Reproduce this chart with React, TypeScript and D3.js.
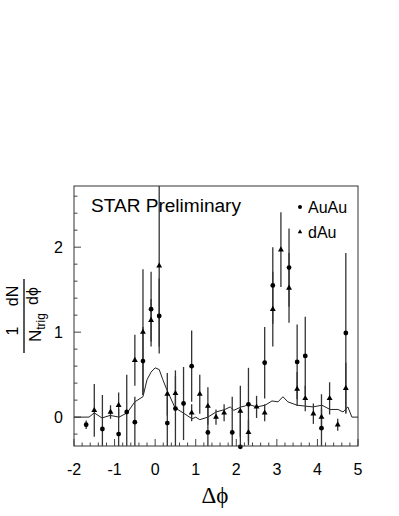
import React from 'react';
import * as d3 from 'd3';

// AuAu points (circles)
const auauX = [-1.7, -1.3, -0.9, -0.7, -0.5, -0.3, -0.1, 0.1, 0.3, 0.5, 0.7, 0.9, 1.3, 1.9, 2.1, 2.3, 2.7, 2.9, 3.3, 3.5, 3.7, 4.1, 4.7];
const auauY = [-0.09, -0.14, -0.2, 0.06, -0.06, 0.66, 1.27, 1.19, -0.07, 0.1, 0.16, 0.6, -0.18, -0.18, -0.35, 0.15, 0.64, 1.55, 1.76, 0.65, 0.72, -0.13, 0.99];
const auauErr = [0.05, 0.4, 0.3, 0.44, 0.3, 0.4, 0.44, 0.44, 0.35, 0.45, 0.43, 0.42, 0.3, 0.42, 0.4, 0.43, 0.42, 0.45, 0.46, 0.44, 0.46, 0.4, 0.94];

// dAu points (triangles)
const dauX = [-1.5, -1.1, -0.9, -0.5, -0.3, -0.1, 0.1, 0.3, 0.5, 0.9, 1.1, 1.3, 1.5, 1.7, 2.1, 2.3, 2.5, 2.7, 2.9, 3.1, 3.3, 3.5, 3.7, 3.9, 4.1, 4.3, 4.5, 4.7];
const dauY = [0.08, 0.06, 0.14, 0.67, 1.0, 1.14, 1.78, 0.27, 0.28, 0.05, 0.27, 0.13, 0.0, 0.05, 0.07, -0.18, 0.12, 0.05, 1.27, 1.97, 1.52, 0.33, 0.22, 0.04, 0.0, 0.22, -0.09, 0.34];
const dauErr = [0.31, 0.08, 0.15, 0.3, 0.74, 0.25, 0.95, 0.25, 0.2, 0.1, 0.23, 0.22, 0.09, 0.1, 0.3, 0.15, 0.13, 0.1, 0.44, 0.44, 0.41, 0.2, 0.15, 0.12, 0.1, 0.19, 0.07, 0.3];

// reference curve
const lineX = [-2.0, -1.63, -1.5, -1.31, -1.11, -0.89, -0.69, -0.5, -0.3, -0.2, -0.1, 0.0, 0.1, 0.19, 0.29, 0.49, 0.69, 0.91, 1.0, 1.1, 1.3, 1.5, 1.72, 1.85, 1.94, 2.12, 2.21, 2.29, 2.51, 2.71, 2.88, 3.03, 3.15, 3.27, 3.5, 3.69, 3.89, 4.11, 4.31, 4.51, 4.63, 4.75, 4.85, 5.0];
const lineY = [0, 0, 0.05, -0.01, 0.02, 0.0, 0.05, 0.18, 0.24, 0.44, 0.53, 0.58, 0.56, 0.44, 0.32, 0.11, 0.05, -0.02, 0.0, -0.03, 0.0, 0.06, 0.09, 0.12, 0.08, 0.12, 0.13, 0.15, 0.12, 0.14, 0.19, 0.18, 0.24, 0.18, 0.14, 0.13, 0.12, 0.14, 0.09, 0.09, 0.06, 0.12, 0.0, 0.0];

const xTicks = [-2, -1, 0, 1, 2, 3, 4, 5];
const yTicks = [0, 1, 2];

const left = 74, right = 358, top = 186, bottom = 446;
const sans = '"Liberation Sans", Arial, Helvetica, sans-serif';
const serif = '"Liberation Serif", "Times New Roman", serif';

export default function App() {
  const x = d3.scaleLinear().domain([-2, 5]).range([left, right]);
  const y = d3.scaleLinear().domain([-0.34, 2.72]).range([bottom, top]);

  const xMinor = d3.range(-2, 5.001, 0.2).map((v) => +v.toFixed(2));
  const yMinor = d3.range(-0.2, 2.65, 0.2).map((v) => +v.toFixed(2));

  const line = d3
    .line<number>()
    .x((_, i) => x(lineX[i]))
    .y((d) => y(d));

  const tri = d3.symbol().type(d3.symbolTriangle).size(15)();
  const triSmall = d3.symbol().type(d3.symbolTriangle).size(9)();

  return (
    <svg width={399} height={516} style={{ position: 'absolute', left: 0, top: 0, background: '#fff' }}>
      <defs>
        <clipPath id="plot">
          <rect x={left} y={top} width={right - left} height={bottom - top} />
        </clipPath>
      </defs>

      {/* ticks */}
      {xMinor.map((v) => (
        <line key={'xm' + v} x1={x(v)} x2={x(v)} y1={bottom} y2={bottom - (Number.isInteger(v) ? 7 : 3.5)} stroke="#444" strokeWidth={1} />
      ))}
      {yMinor.map((v) => (
        <line key={'ym' + v} x1={left} x2={left + (Math.abs(v - Math.round(v)) < 0.01 ? 7 : 3.5)} y1={y(v)} y2={y(v)} stroke="#444" strokeWidth={1} />
      ))}

      {/* curve */}
      <path d={line(lineY) || ''} fill="none" stroke="#222" strokeWidth={1} clipPath="url(#plot)" />

      {/* error bars */}
      <g clipPath="url(#plot)" stroke="#333" strokeWidth={1.3}>
        {auauX.map((v, i) => (
          <line key={'ae' + i} x1={x(v)} x2={x(v)} y1={y(auauY[i] - auauErr[i])} y2={y(auauY[i] + auauErr[i])} />
        ))}
        {dauX.map((v, i) => (
          <line key={'de' + i} x1={x(v)} x2={x(v)} y1={y(dauY[i] - dauErr[i])} y2={y(dauY[i] + dauErr[i])} />
        ))}
      </g>

      {/* markers */}
      {auauX.map((v, i) => (
        <circle key={'a' + i} cx={x(v)} cy={y(auauY[i])} r={2.4} fill="#000" />
      ))}
      {dauX.map((v, i) => (
        <path key={'d' + i} d={tri || ''} transform={`translate(${x(v)},${y(dauY[i])})`} fill="#000" />
      ))}

      {/* frame */}
      <rect x={left} y={top} width={right - left} height={bottom - top} fill="none" stroke="#333" strokeWidth={1} />

      {/* tick labels */}
      {xTicks.map((v) => (
        <text key={'xl' + v} x={x(v)} y={475} textAnchor="middle" fontFamily={sans} fontSize={16}>
          {v}
        </text>
      ))}
      {yTicks.map((v) => (
        <text key={'yl' + v} x={63} y={y(v) + 6} textAnchor="end" fontFamily={sans} fontSize={16}>
          {v}
        </text>
      ))}

      {/* x title */}
      <text x={215} y={503} textAnchor="middle" fontFamily={serif} fontSize={23}>
        Δϕ
      </text>

      {/* y title: 1/N_trig dN/dphi */}
      <g transform="rotate(-90)" fontFamily={sans}>
        <text x={-331} y={18} textAnchor="middle" fontSize={16}>1</text>
        <text x={-342} y={41} textAnchor="start" fontSize={17}>
          N<tspan fontSize={12} dy={4}>trig</tspan>
        </text>
        <text x={-296} y={18} textAnchor="middle" fontSize={16}>dN</text>
        <text x={-296} y={38} textAnchor="middle" fontSize={16}>dϕ</text>
        <line x1={-353} x2={-279} y1={24} y2={24} stroke="#000" strokeWidth={1.3} />
      </g>

      {/* labels */}
      <text x={91} y={212} fontFamily={sans} fontSize={18} textLength={150} lengthAdjust="spacingAndGlyphs">
        STAR Preliminary
      </text>
      <circle cx={300} cy={207} r={2} fill="#000" />
      <text x={308} y={213} fontFamily={sans} fontSize={16}>AuAu</text>
      <path d={triSmall || ''} transform="translate(300,232)" fill="#000" />
      <text x={308} y={238} fontFamily={sans} fontSize={16}>dAu</text>
    </svg>
  );
}
